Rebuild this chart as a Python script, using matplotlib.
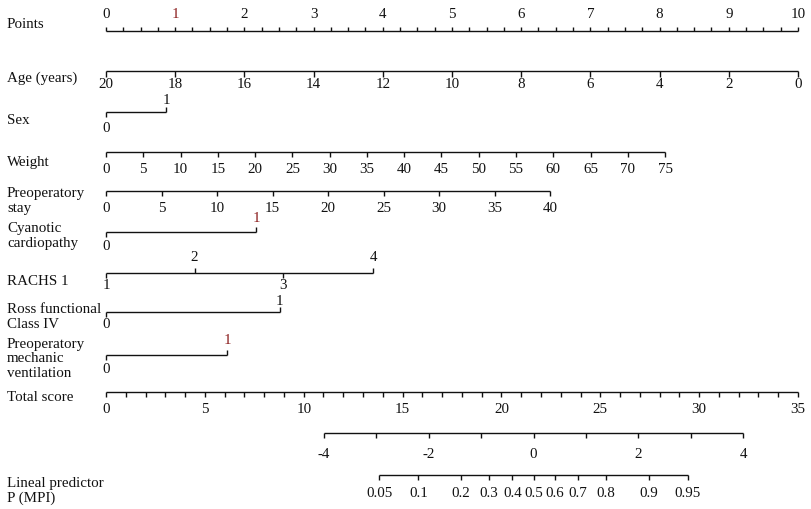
import numpy as np
import matplotlib
matplotlib.use("Agg")
import matplotlib.pyplot as plt

# --- Configuration ---
OUTPUT_IMAGE = "out.png"
FONT = "Liberation Serif"
FONT_SIZE = 10.8
INK = "#111111"
RED = "#8b1e1e"

# --- Nomogram data ---
points_ticks = list(range(0, 11))

age_ticks = [20, 18, 16, 14, 12, 10, 8, 6, 4, 2, 0]
age_range = (20, 0)
age_points = (0, 10)

sex_levels = [0, 1]
sex_points = [0, 0.87]

weight_ticks = list(range(0, 80, 5))
weight_range = (0, 75)
weight_points = (0, 8.08)

stay_ticks = list(range(0, 45, 5))
stay_range = (0, 40)
stay_points = (0, 6.42)

cyanotic_levels = [0, 1]
cyanotic_points = [0, 2.17]

rachs_levels = [1, 2, 3, 4]
rachs_points = [0, 1.28, 2.56, 3.86]

ross_levels = [0, 1]
ross_points = [0, 2.51]

vent_levels = [0, 1]
vent_points = [0, 1.75]

total_ticks = list(range(0, 36))
total_labels = [0, 5, 10, 15, 20, 25, 30, 35]
total_max = 35

lp_ticks = [-4, -3, -2, -1, 0, 1, 2, 3, 4]
lp_labels = [-4, -2, 0, 2, 4]
lp_range = (-4, 4)
lp_total = (11.03, 32.22)   # total score under lp -4 and lp 4

prob_ticks = [0.05, 0.1, 0.2, 0.3, 0.4, 0.5, 0.6, 0.7, 0.8, 0.9, 0.95]
prob_labels = ["0.05", "0.1", "0.2", "0.3", "0.4", "0.5", "0.6", "0.7", "0.8", "0.9", "0.95"]


def lin(vals, vrange, prange):
    """Maps variable values onto the points scale."""
    return np.interp(vals, sorted(vrange),
                     prange if vrange[0] < vrange[1] else prange[::-1])


def total_to_pts(t):
    return np.asarray(t, dtype=float) * 10 / total_max


def lp_to_pts(lp):
    t = np.interp(lp, lp_range, lp_total)
    return total_to_pts(t)


def draw_scale(ax, y, xs, labels, sides, label_dy, tick_len=5, colors=None):
    """Draws one row: line, ticks and tick labels (side +1 above, -1 below)."""
    xs = np.asarray(xs, dtype=float)
    ax.hlines(y, xs.min(), xs.max(), color=INK, lw=1.0)
    for i, x in enumerate(xs):
        s = sides[i]
        ax.vlines(x, y, y - s * tick_len, color=INK, lw=1.0)
        if labels[i] is None:
            continue
        c = colors[i] if colors else INK
        dy = label_dy[0] if s > 0 else label_dy[1]
        ax.text(x, y + dy, str(labels[i]), ha="center", va="center",
                fontsize=FONT_SIZE, family=FONT, color=c)


def draw_nomogram():
    fig = plt.figure(figsize=(8.12, 5.10), dpi=100)
    ax = fig.add_axes([0, 0, 1, 1])
    px = 69.2  # pixels per point
    ax.set_xlim(-106 / px, (812 - 106) / px)
    ax.set_ylim(510, 0)
    ax.axis("off")

    def name(y, txt):
        ax.text(-99 / px, y, txt, ha="left", va="center", fontsize=FONT_SIZE,
                family=FONT, color=INK, linespacing=1.12)

    # Points
    y = 31.5
    name(25, "Points")
    cols = [RED if v == 1 else INK for v in points_ticks]
    draw_scale(ax, y, points_ticks, points_ticks, [1] * 11, (-16.5, 0), tick_len=4, colors=cols)
    minor = [v / 4 for v in range(41) if v % 4]
    ax.vlines(minor, y, y - 3.5, color=INK, lw=1.0)

    # Age
    y = 71.5
    name(78, "Age (years)")
    draw_scale(ax, y, lin(age_ticks, age_range, age_points), age_ticks,
               [-1] * len(age_ticks), (0, 13.5), tick_len=6)

    # Sex
    y = 113
    name(120, "Sex")
    draw_scale(ax, y, sex_points, sex_levels, [-1, 1], (-13, 15))

    # Weight
    y = 153
    name(163, "Weight")
    draw_scale(ax, y, lin(weight_ticks, weight_range, weight_points), weight_ticks,
               [-1] * len(weight_ticks), (0, 17))

    # Preoperatory stay
    y = 192
    name(201, "Preoperatory\nstay")
    draw_scale(ax, y, lin(stay_ticks, stay_range, stay_points), stay_ticks,
               [-1] * len(stay_ticks), (0, 16.5))

    # Cyanotic cardiopathy
    y = 233
    name(236, "Cyanotic\ncardiopathy")
    draw_scale(ax, y, cyanotic_points, cyanotic_levels, [-1, 1], (-14, 14),
               colors=[INK, RED])

    # RACHS 1
    y = 274
    name(282, "RACHS 1")
    draw_scale(ax, y, rachs_points, rachs_levels, [-1, 1, -1, 1], (-16.5, 12))

    # Ross functional class IV
    y = 313
    name(317, "Ross functional\nClass IV")
    draw_scale(ax, y, ross_points, ross_levels, [-1, 1], (-11, 12))

    # Preoperatory mechanic ventilation
    y = 356
    name(359, "Preoperatory\nmechanic\nventilation")
    draw_scale(ax, y, vent_points, vent_levels, [-1, 1], (-15, 14),
               colors=[INK, RED])

    # Total score
    y = 393
    name(398, "Total score")
    tl = [t if t in total_labels else None for t in total_ticks]
    draw_scale(ax, y, total_to_pts(total_ticks), tl, [-1] * len(total_ticks), (0, 17))

    # Linear predictor
    y = 434
    ll = [v if v in lp_labels else None for v in lp_ticks]
    draw_scale(ax, y, lp_to_pts(lp_ticks), ll, [-1] * len(lp_ticks), (0, 20.5))

    # Probability
    y = 476
    name(491, "Lineal predictor\nP (MPI)")
    logit = np.log(np.array(prob_ticks) / (1 - np.array(prob_ticks)))
    draw_scale(ax, y, lp_to_pts(logit), prob_labels, [-1] * len(prob_ticks), (0, 18))

    fig.savefig(OUTPUT_IMAGE, dpi=100, facecolor="white")
    plt.close(fig)


if __name__ == "__main__":
    draw_nomogram()
